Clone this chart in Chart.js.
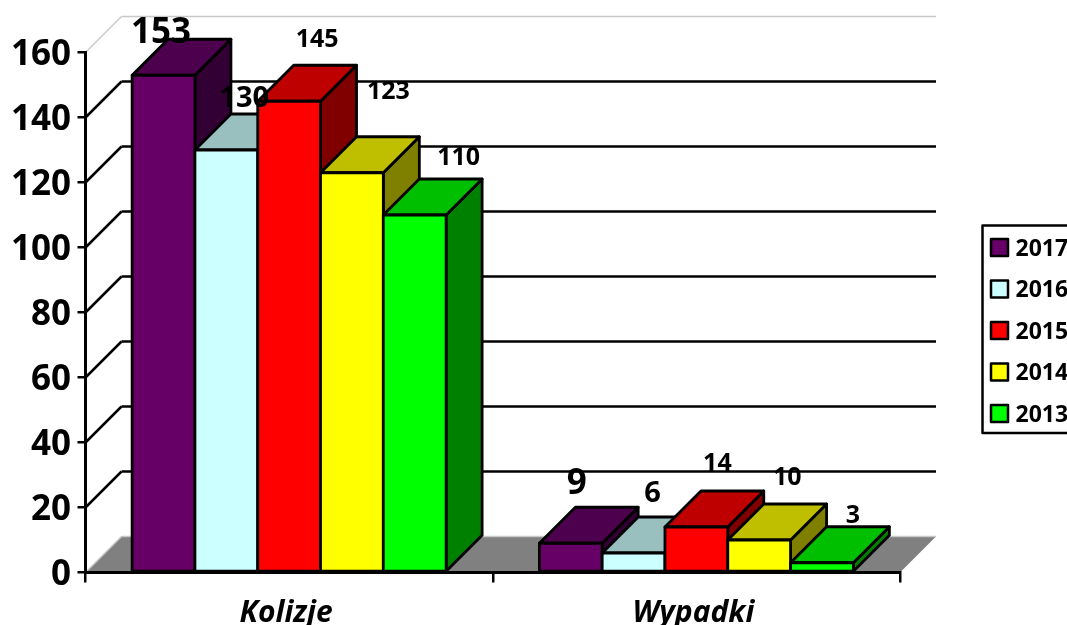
<!DOCTYPE html>
<html>
<head>
<meta charset="utf-8">
<style>
  html, body { margin: 0; padding: 0; background: #fff; overflow: hidden; }
  #wrap { width: 1067px; height: 625px; }
</style>
<script src="https://cdn.jsdelivr.net/npm/chart.js@4/dist/chart.umd.js"></script>
</head>
<body>
<div id="wrap"><canvas id="graph"></canvas></div>
<script>
const categories = ['Kolizje', 'Wypadki']
const years = ['2017', '2016', '2015', '2014', '2013']

const values2017 = [153, 9]
const values2016 = [130, 6]
const values2015 = [145, 14]
const values2014 = [123, 10]
const values2013 = [110, 3]

const frontColours = ['#660066', '#CCFFFF', '#FF0000', '#FFFF00', '#00FF00']
const topColours = ['#4D004D', '#99BFBF', '#BF0000', '#BFBF00', '#00BF00']
const sideColours = ['#330033', '#668080', '#800000', '#808000', '#008000']

const FONT = '"Open Sans", sans-serif'
const DEPTH = 36
const EDGE = 2.8

// hand placed, the data labels in the picture sit at odd spots around the bars
const labelSizes = [35, 29, 25, 25, 25]
const labelShifts = [
  [[-2.5, -42], [6, -59]],
  [[18, -51.5], [19, -59]],
  [[28, -61], [21, -63]],
  [[36.5, -81], [28, -62]],
  [[44, -57], [31, -47]],
]

const ctx = document.getElementById('graph').getContext('2d')

function poly(c, points, fill, stroke, width) {
  c.beginPath()
  points.forEach((p, i) => (i ? c.lineTo(p[0], p[1]) : c.moveTo(p[0], p[1])))
  c.closePath()
  if (fill) {
    c.fillStyle = fill
    c.fill()
  }
  if (stroke) {
    c.strokeStyle = stroke
    c.lineWidth = width
    c.lineJoin = 'round'
    c.stroke()
  }
}

function line(c, x1, y1, x2, y2, colour, width) {
  c.beginPath()
  c.moveTo(x1, y1)
  c.lineTo(x2, y2)
  c.strokeStyle = colour
  c.lineWidth = width
  c.stroke()
}

const box3d = {
  id: 'box3d',
  beforeDraw(chart) {
    const c = chart.ctx
    const { left, right } = chart.chartArea
    const yScale = chart.scales.y
    const zero = yScale.getPixelForValue(0)

    // floor
    poly(c, [[left, zero], [right, zero], [right + DEPTH, zero - DEPTH], [left + DEPTH, zero - DEPTH]], '#808080')

    // back and side walls
    yScale.ticks.forEach(tick => {
      const y = yScale.getPixelForValue(tick.value)
      const edge = tick.value === 0 || tick.value === 160
      const colour = edge ? '#C8C8C8' : '#000000'
      const width = edge ? 1.5 : 2.5
      line(c, left, y, left + DEPTH, y - DEPTH, colour, width)
      line(c, left + DEPTH, y - DEPTH, right + DEPTH, y - DEPTH, colour, width)
    })
  },
  beforeDatasetsDraw(chart) {
    const c = chart.ctx
    chart.data.datasets.forEach((ds, i) => {
      chart.getDatasetMeta(i).data.forEach(bar => {
        const half = bar.width / 2
        const x1 = bar.x - half
        const x2 = bar.x + half
        poly(c, [[x2, bar.y], [x2 + DEPTH, bar.y - DEPTH], [x2 + DEPTH, bar.base - DEPTH], [x2, bar.base]], sideColours[i], '#000', EDGE)
        poly(c, [[x1, bar.y], [x2, bar.y], [x2 + DEPTH, bar.y - DEPTH], [x1 + DEPTH, bar.y - DEPTH]], topColours[i], '#000', EDGE)
        bar.draw(c)
        poly(c, [[x1, bar.y], [x2, bar.y], [x2, bar.base], [x1, bar.base]], null, '#000', EDGE)
      })
    })
    return false
  },
  afterDraw(chart) {
    const c = chart.ctx

    // data labels
    c.fillStyle = '#000'
    c.textAlign = 'center'
    c.textBaseline = 'middle'
    chart.data.datasets.forEach((ds, i) => {
      c.font = 'bold ' + labelSizes[i] + 'px ' + FONT
      chart.getDatasetMeta(i).data.forEach((bar, j) => {
        c.fillText(ds.data[j], bar.x + labelShifts[i][j][0], bar.y + labelShifts[i][j][1])
      })
    })

    // legend, runs off the right edge like the picture
    const legendX = 982.5
    const legendTop = 225.5
    const rowGap = 41.5
    c.strokeStyle = '#000'
    c.lineWidth = 2.5
    c.strokeRect(legendX, legendTop, 120, 207.5)
    c.textAlign = 'left'
    c.font = 'bold 23px ' + FONT
    chart.data.datasets.forEach((ds, i) => {
      const mid = legendTop + 22.5 + i * rowGap
      c.fillStyle = frontColours[i]
      c.fillRect(991, mid - 9, 17, 17)
      c.strokeRect(991, mid - 9, 17, 17)
      c.fillStyle = '#000'
      c.fillText(ds.label, 1015.5, mid + 1)
    })
  },
}

const seriesValues = [values2017, values2016, values2015, values2014, values2013]

let graph = new Chart(ctx, {
  type: 'bar',
  data: {
    labels: categories,
    datasets: years.map((year, i) => ({
      label: year,
      data: seriesValues[i],
      backgroundColor: frontColours[i],
      borderWidth: 0,
      inflateAmount: 0,
      barPercentage: 1,
      categoryPercentage: 0.771,
    })),
  },
  options: {
    responsive: true,
    maintainAspectRatio: false,
    animation: false,
    layout: { padding: { top: 52.5, right: 167, left: 0, bottom: 0 } },
    plugins: {
      legend: { display: false },
      tooltip: { enabled: false },
    },
    scales: {
      x: {
        afterFit: s => { s.height = 52.5 },
        border: { color: '#000', width: 3 },
        grid: { color: '#000', lineWidth: 2.5, drawOnChartArea: false, tickLength: 10 },
        ticks: {
          color: '#000',
          font: { family: FONT, size: 30, weight: 'bold', style: 'italic' },
          padding: 13,
          labelOffset: -3,
          maxRotation: 0,
        },
      },
      y: {
        min: 0,
        max: 160,
        afterFit: s => { s.width = 85.5 },
        border: { color: '#000', width: 3 },
        grid: { color: '#000', lineWidth: 2.5, drawOnChartArea: false, tickLength: 8 },
        ticks: {
          stepSize: 20,
          color: '#000',
          font: { family: FONT, size: 35, weight: 'bold' },
          padding: 6.5,
          labelOffset: 3,
        },
      },
    },
  },
  plugins: [box3d],
})
</script>
</body>
</html>
